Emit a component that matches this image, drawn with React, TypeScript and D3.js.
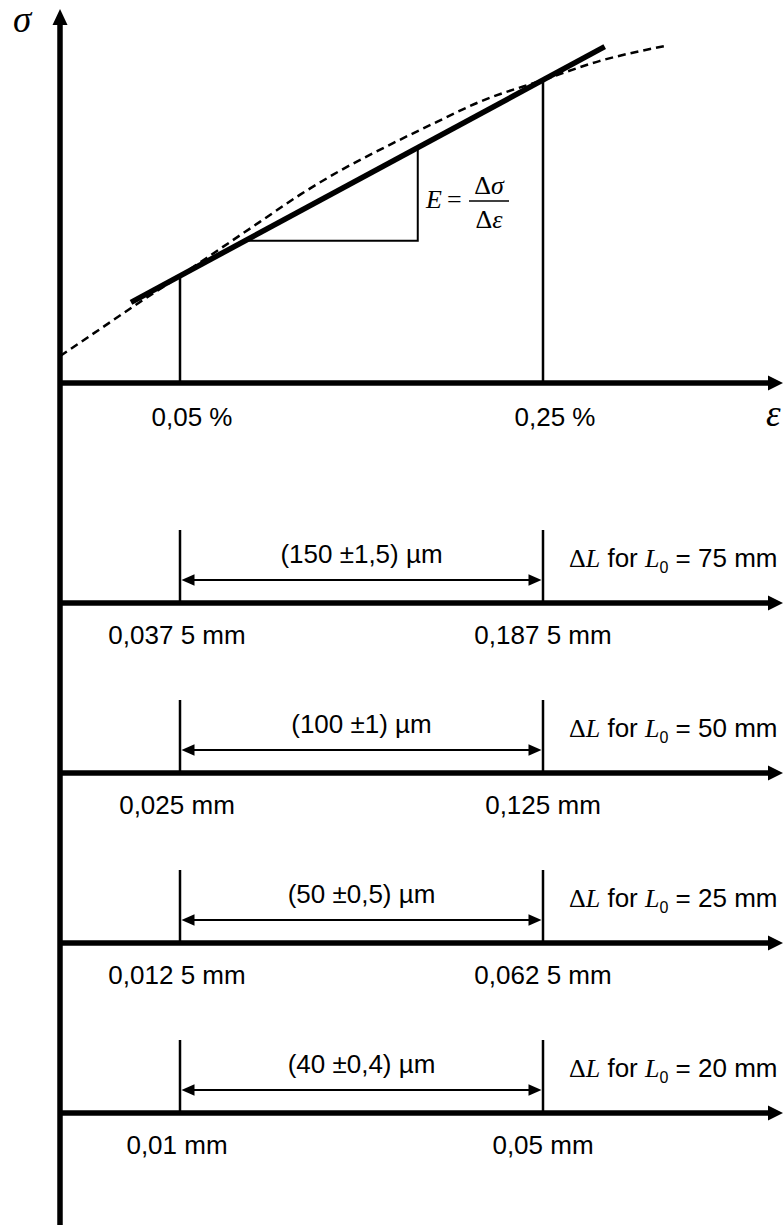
import React from 'react'
import * as d3 from 'd3'

// strain axis (%) and stress axis (arbitrary units)
const strainTicks = [0.05, 0.25]
const strainTickLabels = ['0,05 %', '0,25 %']

const curveStrain = [-0.016, 0.006, 0.028, 0.05, 0.072, 0.094, 0.116, 0.138, 0.16, 0.189, 0.215, 0.25, 0.281, 0.317]
const curveStress = [9.0, 18.0, 27.0, 35.7, 44.7, 53.7, 62.7, 70.7, 77.7, 86.3, 93.7, 101.0, 107.3, 112.3]

const tangentStrain = [0.023, 0.284]
const tangentStress = [26.9, 112.1]

// slope triangle: left corner on the tangent, right corner under the tangent
const triangleStrain = [0.086, 0.181]
const triangleStress = [47.4, 78.5]

// extensometer rows
const gaugeLengths = [75, 50, 25, 20]
const deltaLow = [0.0375, 0.025, 0.0125, 0.01]
const deltaHigh = [0.1875, 0.125, 0.0625, 0.05]
const lowLabels = ['0,037 5 mm', '0,025 mm', '0,012 5 mm', '0,01 mm']
const highLabels = ['0,187 5 mm', '0,125 mm', '0,062 5 mm', '0,05 mm']
const spanLabels = ['(150 ±1,5) µm', '(100 ±1) µm', '(50 ±0,5) µm', '(40 ±0,4) µm']

const W = 783
const H = 1225
const axisX = 60
const fs = 26
const sans = "'Liberation Sans', Arial, sans-serif"
const serif = "'Liberation Serif', 'Times New Roman', serif"

const arrowRight = (tip: number, yc: number, len = 15, half = 7.5) =>
  `M${tip},${yc}L${tip - len},${yc - half}L${tip - len},${yc + half}Z`
const arrowLeft = (tip: number, yc: number, len = 15, half = 7.5) =>
  `M${tip},${yc}L${tip + len},${yc - half}L${tip + len},${yc + half}Z`
const arrowUp = (xc: number, tip: number, len = 16, half = 7.5) =>
  `M${xc},${tip}L${xc - half},${tip + len}L${xc + half},${tip + len}Z`

export default function App() {
  const x = d3.scaleLinear().domain([0.05, 0.25]).range([180, 543])
  const y = d3.scaleLinear().domain([0, 100]).range([383, 83])
  const y0 = y(0)

  const curveData = curveStrain.map((s, i) => [s, curveStress[i]] as [number, number])
  const line = d3.line<[number, number]>()
    .x(d => x(d[0]))
    .y(d => y(d[1]))
  const smooth = d3.line<[number, number]>()
    .x(d => x(d[0]))
    .y(d => y(d[1]))
    .curve(d3.curveMonotoneX)

  const tangentData = tangentStrain.map((s, i) => [s, tangentStress[i]] as [number, number])
  const tickTop = strainTicks.map(s => curveStress[curveStrain.indexOf(s)])

  const rowY = d3.scalePoint<number>().domain(gaugeLengths).range([603, 1113])

  return (
    <svg width={W} height={H} style={{ position: 'absolute', left: 0, top: 0, background: '#fff' }}>
      {/* vertical stress axis */}
      <line x1={axisX} y1={H} x2={axisX} y2={24} stroke="#000" strokeWidth={5.5} />
      <path d={arrowUp(axisX, 9)} fill="#000" />
      <text x={13} y={32} fontFamily={serif} fontStyle="italic" fontSize={37}>σ</text>

      {/* strain axis */}
      <line x1={axisX} y1={y0} x2={W - 14} y2={y0} stroke="#000" strokeWidth={5.5} />
      <path d={arrowRight(W, y0)} fill="#000" />
      <text x={766} y={426} fontFamily={serif} fontStyle="italic" fontSize={37}>ε</text>

      {/* tick verticals */}
      {strainTicks.map((s, i) => (
        <line key={s} x1={x(s)} x2={x(s)} y1={y0} y2={y(tickTop[i])} stroke="#000" strokeWidth={2.5} />
      ))}
      {strainTickLabels.map((t, i) => (
        <text key={t} x={x(strainTicks[i]) + 12} y={y0 + 43} textAnchor="middle" fontFamily={sans} fontSize={fs}>{t}</text>
      ))}

      {/* slope triangle */}
      <path
        d={line([
          [triangleStrain[0], triangleStress[0]],
          [triangleStrain[1], triangleStress[0]],
          [triangleStrain[1], triangleStress[1]],
        ]) || ''}
        fill="none" stroke="#000" strokeWidth={2} />

      {/* stress-strain curve and secant */}
      <path d={smooth(curveData) || ''} fill="none" stroke="#000" strokeWidth={2.5} strokeDasharray="8,5" />
      <path d={line(tangentData) || ''} fill="none" stroke="#000" strokeWidth={5.5} />

      {/* modulus formula */}
      <text x={426} y={208} fontFamily={serif} fontStyle="italic" fontSize={26}>E</text>
      <text x={447} y={208} fontFamily={serif} fontSize={26}>=</text>
      <line x1={469} x2={509} y1={201} y2={201} stroke="#000" strokeWidth={1.3} />
      <text x={489} y={194} textAnchor="middle" fontFamily={serif} fontSize={26}>
        Δ<tspan fontStyle="italic">σ</tspan>
      </text>
      <text x={489} y={228} textAnchor="middle" fontFamily={serif} fontSize={26}>
        Δ<tspan fontStyle="italic">ε</tspan>
      </text>

      {/* extension rows */}
      {gaugeLengths.map((L, i) => {
        const yr = rowY(L) as number
        const xr = d3.scaleLinear().domain([deltaLow[i], deltaHigh[i]]).range([180, 543])
        const xa = xr(deltaLow[i])
        const xb = xr(deltaHigh[i])
        const ya = yr - 23
        return (
          <g key={L}>
            <line x1={axisX} y1={yr} x2={W - 14} y2={yr} stroke="#000" strokeWidth={5.5} />
            <path d={arrowRight(W, yr)} fill="#000" />
            <line x1={xa} x2={xa} y1={yr} y2={yr - 73} stroke="#000" strokeWidth={2.5} />
            <line x1={xb} x2={xb} y1={yr} y2={yr - 73} stroke="#000" strokeWidth={2.5} />
            <line x1={xa + 10} x2={xb - 10} y1={ya} y2={ya} stroke="#000" strokeWidth={2.2} />
            <path d={arrowLeft(xa + 1.5, ya, 13, 5.8)} fill="#000" />
            <path d={arrowRight(xb - 1.5, ya, 13, 5.8)} fill="#000" />
            <text x={(xa + xb) / 2} y={yr - 40} textAnchor="middle" fontFamily={sans} fontSize={fs}>{spanLabels[i]}</text>
            <text x={xa - 3} y={yr + 41} textAnchor="middle" fontFamily={sans} fontSize={fs}>{lowLabels[i]}</text>
            <text x={xb} y={yr + 41} textAnchor="middle" fontFamily={sans} fontSize={fs}>{highLabels[i]}</text>
            <text x={569} y={yr - 36} fontFamily={sans} fontSize={fs}>
              <tspan fontFamily={serif}>Δ</tspan>
              <tspan fontFamily={serif} fontStyle="italic">L</tspan>
              {' for '}
              <tspan fontFamily={serif} fontStyle="italic">L</tspan>
              <tspan fontSize={16} dy={6}>0</tspan>
              <tspan dy={-6}>{` = ${L} mm`}</tspan>
            </text>
          </g>
        )
      })}
    </svg>
  )
}
